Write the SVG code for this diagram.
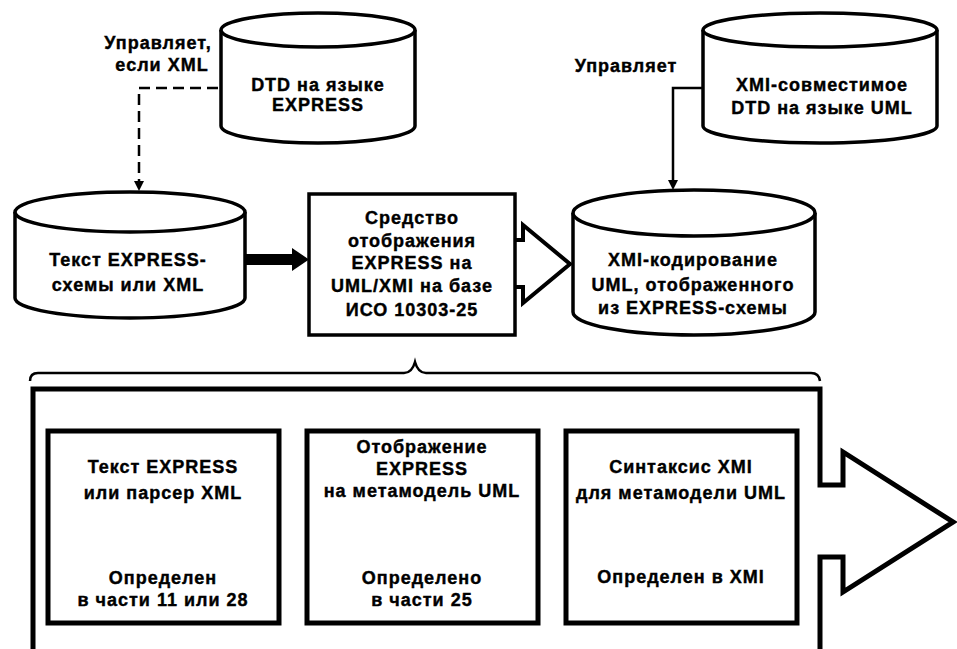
<svg xmlns="http://www.w3.org/2000/svg" width="957" height="649" viewBox="0 0 957 649">
<style>
.s{fill:#fff;stroke:#000;stroke-width:3.5}
.b{fill:#fff;stroke:#000;stroke-width:5}
.t{font-family:"Liberation Sans",Arial,sans-serif;font-weight:bold;font-size:18px;text-anchor:middle;letter-spacing:1px;fill:#000;stroke:#000;stroke-width:0.4}
</style>
<rect width="957" height="649" fill="#fff"/>

<g id="connectors">
<path d="M218,88 H139 V183" fill="none" stroke="#000" stroke-width="2.5" stroke-dasharray="11,6"/>
<polygon points="134,181 144,181 139,191" fill="#000"/>
<path d="M703,88 H673 V181" fill="none" stroke="#000" stroke-width="2.5"/>
<polygon points="668,180 678,180 673,190" fill="#000"/>
<rect x="245" y="254" width="49" height="11" fill="#000"/>
<polygon points="292,248 309,259.5 292,271" fill="#000"/>
<polyline points="515,240 523,240 523,225 570,264 523,303 523,287 515,287" fill="#fff" stroke="#000" stroke-width="4" stroke-linejoin="miter"/>
<path d="M30,381 Q30,373 38,373 H404 Q412,373 415,362 Q418,373 426,373 H811 Q819,373 820,381" fill="none" stroke="#000" stroke-width="2.5"/>
</g>

<g id="dtd-express">
<path class="s" d="M221,30 V126 A97,17 0 0 0 415,126 V30"/>
<ellipse class="s" cx="318" cy="30" rx="97" ry="17"/>
<text class="t" x="318" y="91">DTD на языке</text>
<text class="t" x="318" y="111">EXPRESS</text>
</g>

<g id="label-left">
<text class="t" x="158" y="49">Управляет,</text>
<text class="t" x="162" y="71">если XML</text>
</g>

<g id="xmi-dtd">
<path class="s" d="M703,30 V126 A117,17 0 0 0 937,126 V30"/>
<ellipse class="s" cx="820" cy="30" rx="117" ry="17"/>
<text class="t" x="822" y="91">XMI-совместимое</text>
<text class="t" x="822" y="114">DTD на языке UML</text>
</g>

<g id="label-right">
<text class="t" x="626" y="72">Управляет</text>
</g>

<g id="express-text">
<path class="s" d="M15,212 V298 A115,20 0 0 0 245,298 V212"/>
<ellipse class="s" cx="130" cy="212" rx="115" ry="20"/>
<text class="t" x="128" y="266">Текст EXPRESS-</text>
<text class="t" x="128" y="291">схемы или XML</text>
</g>

<g id="mapper">
<rect class="s" x="309" y="194" width="206" height="141"/>
<text class="t" x="412" y="224">Средство</text>
<text class="t" x="412" y="247">отображения</text>
<text class="t" x="412" y="269">EXPRESS на</text>
<text class="t" x="412" y="292">UML/XMI на базе</text>
<text class="t" x="412" y="316">ИСО 10303-25</text>
</g>

<g id="xmi-encoding">
<path class="s" d="M573,213 V312 A121,23 0 0 0 815,312 V213"/>
<ellipse class="s" cx="694" cy="213" rx="121" ry="23"/>
<text class="t" x="693" y="266">XMI-кодирование</text>
<text class="t" x="693" y="291">UML, отображенного</text>
<text class="t" x="693" y="314">из EXPRESS-схемы</text>
</g>

<g id="process">
<path class="b" d="M820,652 V557 H843 V592 L953,522 L843,452 V485 H820 V389 H33 V652"/>
</g>

<g id="parser">
<rect class="b" x="48" y="431" width="231" height="192"/>
<text class="t" x="163" y="473">Текст EXPRESS</text>
<text class="t" x="163" y="499">или парсер XML</text>
<text class="t" x="163" y="584">Определен</text>
<text class="t" x="163" y="606">в части 11 или 28</text>
</g>

<g id="mapping">
<rect class="b" x="307" y="431" width="231" height="192"/>
<text class="t" x="422" y="453">Отображение</text>
<text class="t" x="422" y="475">EXPRESS</text>
<text class="t" x="422" y="497">на метамодель UML</text>
<text class="t" x="422" y="584">Определено</text>
<text class="t" x="422" y="606">в части 25</text>
</g>

<g id="syntax">
<rect class="b" x="566" y="431" width="231" height="192"/>
<text class="t" x="681" y="473">Синтаксис XMI</text>
<text class="t" x="681" y="499">для метамодели UML</text>
<text class="t" x="681" y="583">Определен в XMI</text>
</g>
</svg>
